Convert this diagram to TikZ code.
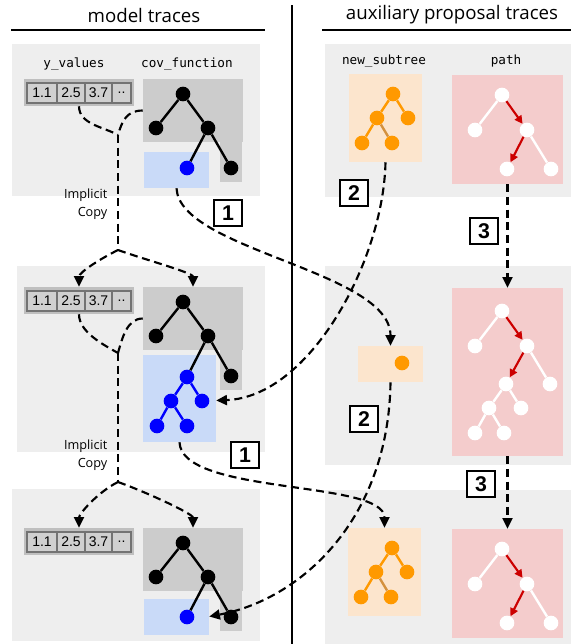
\documentclass[tikz,border=0pt]{standalone}
\usepackage{fontspec}
\setmainfont{Open Sans}
\setmonofont{DejaVu Sans Mono}
\newfontfamily\arialfont{Liberation Sans}
\usetikzlibrary{arrows.meta}

\definecolor{panelgray}{HTML}{EEEEEE}
\definecolor{treegray}{HTML}{CCCCCC}
\definecolor{cellgray}{HTML}{D0D0D0}
\definecolor{cellline}{HTML}{737373}
\definecolor{arraygray}{HTML}{BFBFBF}
\definecolor{lightblue}{HTML}{C9DAF8}
\definecolor{lightorange}{HTML}{FCE5CD}
\definecolor{lightpink}{HTML}{F4CCCC}
\definecolor{nodeorange}{HTML}{FF9900}
\definecolor{edgebrown}{HTML}{D4913F}
\definecolor{pathred}{HTML}{CC0000}

\tikzset{
  dot/.style={circle, inner sep=0pt, minimum size=11pt},
  bdot/.style={dot, fill=black},
  bludot/.style={dot, fill=blue},
  odot/.style={dot, fill=nodeorange},
  wdot/.style={dot, fill=white},
  bedge/.style={line width=1.8pt, black},
  bluedge/.style={line width=1.8pt, blue},
  oedge/.style={line width=1.8pt, nodeorange},
  wedge/.style={line width=1.8pt, white},
  redarrow/.style={line width=1.6pt, pathred, -{Triangle[length=6pt,width=6pt]}},
  copyline/.style={line width=1.6pt, dash pattern=on 6pt off 3.5pt},
  move/.style={copyline, -{Triangle[length=8pt,width=7.5pt]}},
  numbox/.style={draw, line width=1.5pt, fill=white, inner sep=0pt, minimum width=21pt, minimum height=20pt, font=\arialfont\bfseries\fontsize{16}{16}\selectfont},
  cell/.style={draw=cellline, line width=1.3pt, fill=cellgray, inner sep=0pt, minimum height=15pt, font=\arialfont\fontsize{10.5}{10.5}\selectfont},
  box/.style={inner sep=0pt},
  heading/.style={font=\fontsize{14}{16}\selectfont},
  field/.style={font=\ttfamily\fontsize{9.5}{11}\selectfont},
  copytext/.style={align=right, font=\fontsize{9.5}{13.5}\selectfont},
}

% y_values array
\newcommand{\yarray}[1]{%
  \node[box, fill=arraygray, minimum width=82.5pt, minimum height=20.25pt] (arr#1) at (79,92.5) {};
  \node[cell, minimum width=22.5pt] (arr#1a) at (42,93) {1.1};
  \node[cell, minimum width=21pt] (arr#1b) at (71,93) {2.5};
  \node[cell, minimum width=20.25pt] (arr#1c) at (98.5,93) {3.7};
  \node[cell, minimum width=14.25pt] (arr#1d) at (121.5,93) {..};
}
% cov_function tree
\newcommand{\covtree}[1]{%
  \node[box, fill=treegray, minimum width=75pt, minimum height=47.25pt] (tb#1) at (193,110.5) {};
  \fill[treegray] (220,142) rectangle (242,182);
  \node[bdot] (t#1) at (183,94) {};
  \node[bdot] (t#1l) at (156,128) {};
  \node[bdot] (t#1r) at (208,128) {};
  \node[bdot] (t#1rr) at (231,168) {};
  \draw[bedge] (t#1) -- (t#1l) (t#1) -- (t#1r) (t#1r) -- (t#1rr);
}
% new_subtree
\newcommand{\newsubtree}[1]{%
  \node[box, fill=lightorange, minimum width=54.75pt, minimum height=66pt] (ob#1) at (385.5,118) {};
  \node[odot] (s#1) at (393,94) {};
  \node[odot] (s#1l) at (377,118) {};
  \node[odot] (s#1r) at (408,118) {};
  \node[odot] (s#1ll) at (362,143) {};
  \node[odot] (s#1lr) at (392,143) {};
  \draw[oedge] (s#1) -- (s#1l) (s#1) -- (s#1r) (s#1l) -- (s#1ll);
  \draw[oedge, edgebrown] (s#1l) -- (s#1lr);
}
% path
\newcommand{\pathtree}[1]{%
  \node[box, fill=lightpink, minimum width=83.25pt, minimum height=81.75pt] (pk#1) at (507.5,129.5) {};
  \node[wdot] (p#1) at (502,95) {};
  \node[wdot] (p#1l) at (475,130) {};
  \node[wdot] (p#1r) at (527,130) {};
  \node[wdot] (p#1rl) at (507,169) {};
  \node[wdot] (p#1rr) at (551,169) {};
  \draw[wedge] (p#1) -- (p#1l) (p#1r) -- (p#1rr);
  \draw[redarrow] (p#1) -- (p#1r);
  \draw[redarrow] (p#1r) -- (p#1rl);
}

\begin{document}
\begin{tikzpicture}[x=0.75pt, y=-0.75pt]
\useasboundingbox (0,0) rectangle (571,644);

% headings
\node[heading] (hm) at (144,15) {model traces};
\node[heading] (ha) at (452,15) {auxiliary proposal traces};
\draw[line width=1.5pt] (11,30) -- (265,30);
\draw[line width=1.5pt] (322,30) -- (571,30);
\draw[line width=1.8pt] (292,5) -- (292,644);

% panels
\fill[panelgray] (12,44) rectangle (260,196);
\fill[panelgray] (17,266) rectangle (265,452);
\fill[panelgray] (12,489) rectangle (260,641);
\fill[panelgray] (325,44) rectangle (571,197);
\fill[panelgray] (325,266) rectangle (571,465);
\fill[panelgray] (325,490) rectangle (571,644);

% model trace 1
\node[field] (yv) at (74,64) {y\_values};
\node[field] (cf) at (187,64) {cov\_function};
\yarray{1}
\node[box, fill=lightblue, minimum width=48.75pt, minimum height=27pt] (bb1) at (176.5,170) {};
\covtree{1}
\node[bludot] (t1rl) at (187,168) {};
\draw[bedge] (t1r) -- (t1rl);

% model trace 2
\begin{scope}[shift={(0,208)}]
  \yarray{2}
  \node[box, fill=lightblue, minimum width=54.75pt, minimum height=65.25pt] (bb2) at (179.5,190.5) {};
  \covtree{2}
  \node[bludot] (t2rl) at (187,169) {};
  \node[bludot] (t2a) at (171,193) {};
  \node[bludot] (t2b) at (202,193) {};
  \node[bludot] (t2c) at (157,218) {};
  \node[bludot] (t2d) at (187,218) {};
  \draw[bedge] (t2r) -- (t2rl);
  \draw[bluedge] (t2rl) -- (t2a) (t2rl) -- (t2b) (t2a) -- (t2c) (t2a) -- (t2d);
\end{scope}

% model trace 3
\begin{scope}[shift={(0,449)}]
  \yarray{3}
  \node[box, fill=lightblue, minimum width=48.75pt, minimum height=27pt] (bb3) at (176.5,167.5) {};
  \covtree{3}
  \node[bludot] (t3rl) at (187,168) {};
  \draw[bedge] (t3r) -- (t3rl);
\end{scope}

% proposal trace 1
\node[field] (ns) at (384,61) {new\_subtree};
\node[field] (pa) at (506,61) {path};
\newsubtree{1}
\pathtree{1}

% proposal trace 2
\node[box, fill=lightorange, minimum width=48.75pt, minimum height=27pt] (ob2) at (390.5,364) {};
\node[odot] (s2) at (402,363) {};
\node[box, fill=lightpink, minimum width=83.25pt, minimum height=126pt] (pk2) at (507.5,372) {};
\node[wdot] (p2) at (502,311) {};
\node[wdot] (p2l) at (475,346) {};
\node[wdot] (p2r) at (527,346) {};
\node[wdot] (p2rl) at (506,384) {};
\node[wdot] (p2rr) at (550,384) {};
\node[wdot] (p2rll) at (489,408) {};
\node[wdot] (p2rlr) at (521,408) {};
\node[wdot] (p2rlll) at (475,433) {};
\node[wdot] (p2rllr) at (504,433) {};
\draw[wedge] (p2) -- (p2l) (p2r) -- (p2rr) (p2rl) -- (p2rll) (p2rl) -- (p2rlr)
  (p2rll) -- (p2rlll) (p2rll) -- (p2rllr);
\draw[redarrow] (p2) -- (p2r);
\draw[redarrow] (p2r) -- (p2rl);

% proposal trace 3
\begin{scope}[shift={(-1,454)}]
  \newsubtree{3}
\end{scope}
\begin{scope}[shift={(0,454)}]
  \pathtree{3}
\end{scope}

% implicit copies
\coordinate (j1) at (118,135);
\coordinate (f1) at (118,250);
\coordinate (j2) at (118,353);
\coordinate (f2) at (118,482);
\draw[copyline] (arr1.south) .. controls +(0,18) and +(-14,-8) .. (j1);
\draw[copyline] (tb1.west) .. controls +(-16,0) and +(4,-14) .. (j1);
\draw[copyline] (j1) -- (f1);
\draw[move] (f1) .. controls +(-20,10) and +(0,-14) .. (arr2.north);
\draw[move] (f1) .. controls +(28,10) and +(0,-14) .. (tb2.north);
\draw[copyline] (arr2.south) .. controls +(0,18) and +(-14,-8) .. (j2);
\draw[copyline] (tb2.west) .. controls +(-16,0) and +(4,-14) .. (j2);
\draw[copyline] (j2) -- (f2);
\draw[move] (f2) .. controls +(-20,10) and +(0,-14) .. (arr3.north);
\draw[move] (f2) .. controls +(28,10) and +(0,-14) .. (tb3.north);
\node[copytext, anchor=east] (ic1) at (112,204) {Implicit\\Copy};
\node[copytext, anchor=east] (ic2) at (112,455) {Implicit\\Copy};

% moves 1, 2, 3
\draw[move] (bb1.south) .. controls +(3,62) and +(0,-75) .. (ob2.north);
\draw[move] (bb2.south) .. controls +(2,53) and +(0,-48) .. (ob3.north);
\draw[move, shorten >=5pt] (ob1.south) .. controls +(-2,98) and +(108,-4) .. (t2b);
\draw[move] (ob2.south) .. controls +(-2,138) and +(91,-17) .. (bb3.east);
\draw[move] (pk1.south) -- (pk2.north);
\draw[move] (pk2.south) -- (pk3.north);

\node[numbox] (n1a) at (228,213) {1};
\node[numbox] (n1b) at (245,455) {1};
\node[numbox] (n2a) at (354,193) {2};
\node[numbox] (n2b) at (364,419) {2};
\node[numbox] (n3a) at (484,231) {3};
\node[numbox] (n3b) at (481,484) {3};
\end{tikzpicture}
\end{document}
